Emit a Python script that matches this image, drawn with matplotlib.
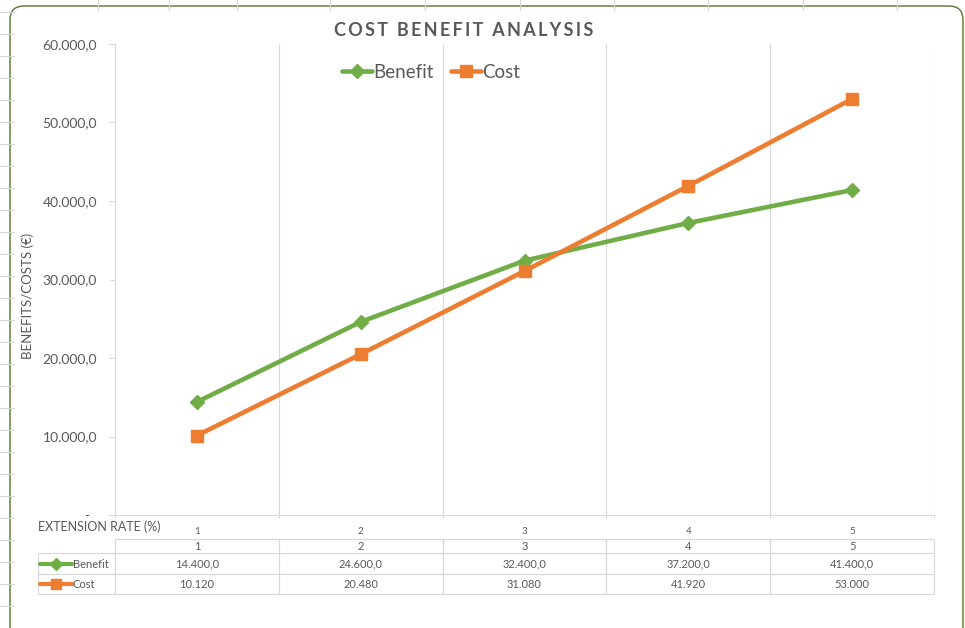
import matplotlib.pyplot as plt
from matplotlib.patches import FancyBboxPatch
from matplotlib.ticker import FixedLocator, FuncFormatter

# chart values
extension_rate = [1, 2, 3, 4, 5]
benefit = [14400.0, 24600.0, 32400.0, 37200.0, 41400.0]
cost = [10120, 20480, 31080, 41920, 53000]
y_ticks = [0, 10000, 20000, 30000, 40000, 50000, 60000]

GREEN = '#70AD47'
ORANGE = '#ED7D31'
TEXT = '#595959'
GRID = '#D9D9D9'
SHEET = '#D6D6D6'
BORDER = '#62813F'

W, H = 965, 628
PLOT_L, PLOT_R, PLOT_T, PLOT_B = 115, 934, 44, 515

plt.rcParams['font.family'] = ['Lato', 'DejaVu Sans']


def euro(v, decimals):
    # 12,345.6 -> 12.345,6
    s = f'{v:,.{decimals}f}'
    return s.replace(',', '#').replace('.', ',').replace('#', '.')


def y_fmt(v, pos):
    if v == 0:
        return '-  '
    return euro(v, 1)


fig = plt.figure(figsize=(W / 100, H / 100), dpi=100)

# sheet cells around the chart object, drawn in pixel units
bg = fig.add_axes([0, 0, 1, 1], zorder=0)
bg.set_xlim(0, W)
bg.set_ylim(H, 0)
bg.axis('off')
for x in [98, 169, 237, 330, 425, 520, 614, 708, 803, 897]:
    bg.plot([x, x], [0, 10], color=SHEET, lw=0.8)
for y in range(12, H, 22):
    bg.plot([0, 14], [y, y], color=SHEET, lw=0.8)
bg.add_patch(FancyBboxPatch((10, 6), 953, 640, boxstyle='round,pad=0,rounding_size=14',
                            facecolor='white', edgecolor=BORDER, lw=1.1))

# title
bg.text(464, 30, '\u2009'.join('COST BENEFIT ANALYSIS'), ha='center', va='center',
        fontsize=13, fontweight='bold', color=TEXT)

ax = fig.add_axes([PLOT_L / W, 1 - PLOT_B / H, (PLOT_R - PLOT_L) / W, (PLOT_B - PLOT_T) / H],
                  zorder=1)
ax.patch.set_alpha(0)
xs = list(range(len(extension_rate)))
ax.plot(xs, benefit, color=GREEN, lw=3.3, marker='D', ms=7.5, label='Benefit',
        solid_joinstyle='round', solid_capstyle='round')
ax.plot(xs, cost, color=ORANGE, lw=3.3, marker='s', ms=8, label='Cost',
        solid_joinstyle='round', solid_capstyle='round')

ax.set_xlim(-0.5, len(xs) - 0.5)
ax.set_ylim(0, 60000)

# category axis: labels at points, grid at category boundaries
ax.set_xticks(xs)
ax.set_xticklabels([str(r) for r in extension_rate])
ax.xaxis.set_minor_locator(FixedLocator([i - 0.5 for i in range(len(xs) + 1)]))
ax.tick_params(axis='x', which='major', length=0, pad=9, labelsize=7, labelcolor=TEXT)
ax.tick_params(axis='x', which='minor', length=2, color=GRID, width=0.8)
ax.grid(which='minor', axis='x', color=GRID, lw=0.8)

ax.set_yticks(y_ticks)
ax.yaxis.set_major_formatter(FuncFormatter(y_fmt))
ax.tick_params(axis='y', length=4, width=0.8, color=GRID, pad=9, labelsize=10,
               labelcolor=TEXT)

for side in ['top', 'right']:
    ax.spines[side].set_visible(False)
for side in ['left', 'bottom']:
    ax.spines[side].set_color(GRID)
    ax.spines[side].set_linewidth(0.8)

bg.text(28, 296, 'BENEFITS/COSTS (€)', rotation=90, ha='center', va='center',
        fontsize=9.5, color=TEXT)
bg.text(38, 527, 'EXTENSION RATE (%)', ha='left', va='center', fontsize=9, color=TEXT)

fig.legend(loc='center', bbox_to_anchor=(431 / W, 1 - 72 / H), ncol=2, frameon=False,
           fontsize=13.5, handlelength=1.6, handletextpad=0.1, columnspacing=0.9,
           labelcolor=TEXT)

# data table under the category axis
TAB_L = 38
ROWS = [539, 553, 574, 594]
unit = (PLOT_R - PLOT_L) / len(xs)
left = -0.5 - (PLOT_L - TAB_L) / unit

tab = fig.add_axes([TAB_L / W, 1 - ROWS[-1] / H, (PLOT_R - TAB_L) / W, (ROWS[-1] - ROWS[0]) / H],
                   zorder=1)
tab.set_xlim(left, len(xs) - 0.5)
tab.set_ylim(ROWS[-1], ROWS[0])
tab.axis('off')

bounds = [i - 0.5 for i in range(len(xs) + 1)]
tab.hlines(ROWS[0], bounds[0], bounds[-1], color=GRID, lw=0.9, clip_on=False)
tab.hlines(ROWS[1:], left, bounds[-1], color=GRID, lw=0.9, clip_on=False)
tab.vlines(bounds, ROWS[0], ROWS[-1], color=GRID, lw=0.9, clip_on=False)
tab.vlines(left, ROWS[1], ROWS[-1], color=GRID, lw=0.9, clip_on=False)

mid = [(ROWS[i] + ROWS[i + 1]) / 2 for i in range(3)]
for i, r in enumerate(extension_rate):
    tab.text(i, mid[0] + 0.5, str(r), ha='center', va='center', fontsize=8, color=TEXT)
    tab.text(i, mid[1] + 0.5, euro(benefit[i], 1), ha='center', va='center', fontsize=8,
             color=TEXT)
    tab.text(i, mid[2] + 0.5, euro(cost[i], 0), ha='center', va='center', fontsize=8,
             color=TEXT)

# legend keys inside the row headers
key0 = left + 2 / unit
key1 = left + 34 / unit
for y, color, marker, ms, name in [(mid[1], GREEN, 'D', 6, 'Benefit'),
                                   (mid[2], ORANGE, 's', 6.5, 'Cost')]:
    tab.plot([key0, key1], [y, y], color=color, lw=3, solid_capstyle='round', clip_on=False)
    tab.plot([(key0 + key1) / 2], [y], color=color, marker=marker, ms=ms, clip_on=False)
    tab.text(key1 + 1 / unit, y + 0.5, name, ha='left', va='center', fontsize=8, color=TEXT)

fig.savefig('out.png', dpi=100)
